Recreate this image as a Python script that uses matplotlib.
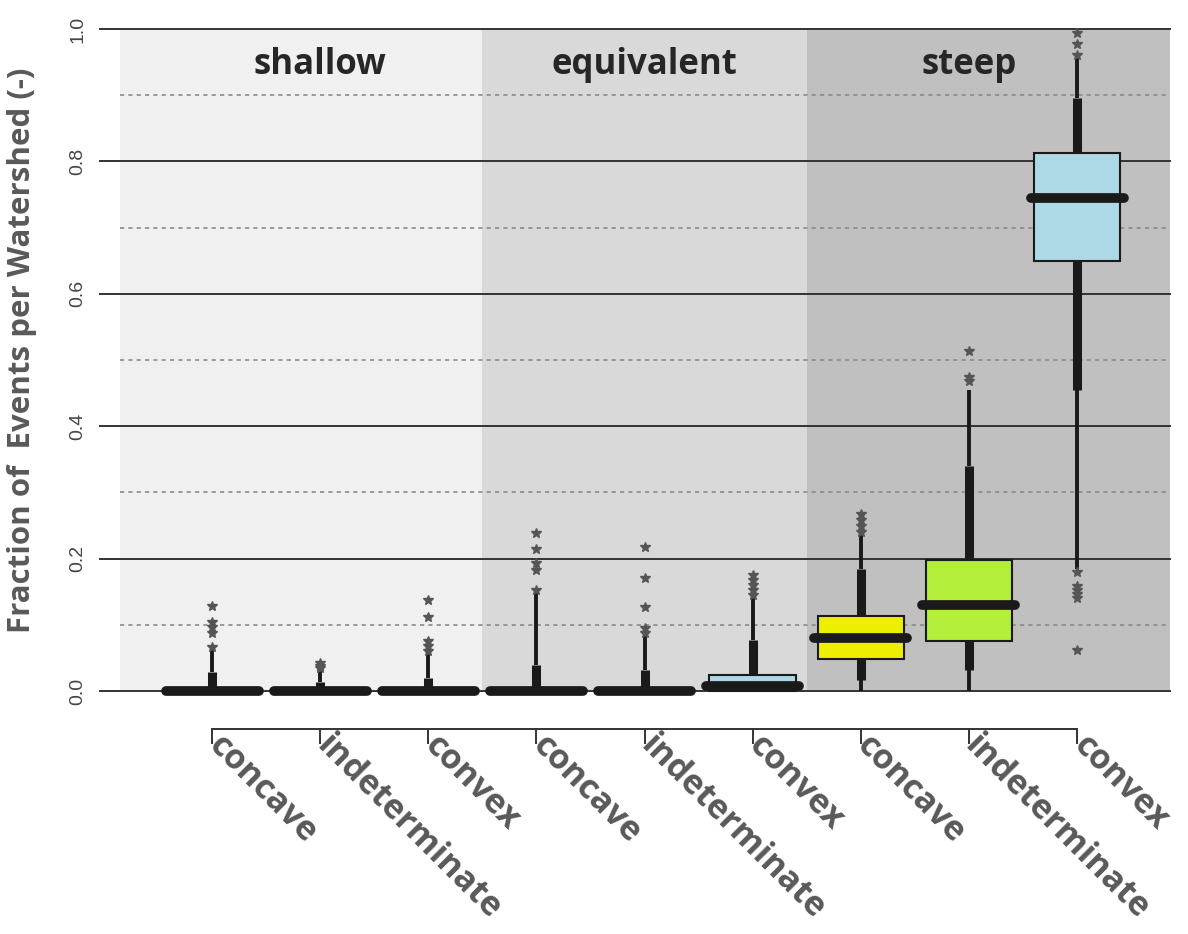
import matplotlib
matplotlib.use('Agg')
import matplotlib.pyplot as plt

# shape classes per slope group
shapes = ['concave', 'indeterminate', 'convex'] * 3
groups = ['shallow', 'equivalent', 'steep']
box_colors = ['#eeee00', '#b3ee3a', '#add8e6'] * 3

# box statistics
q1 = [0, 0, 0, 0, 0, 0, 0.049, 0.076, 0.649]
med = [0, 0, 0, 0, 0, 0.008, 0.080, 0.130, 0.745]
q3 = [0, 0, 0, 0, 0, 0.024, 0.114, 0.198, 0.813]
thick_hi = [0.028, 0.014, 0.020, 0.039, 0.032, 0.077, 0.184, 0.340, 0.896]
whis_hi = [0.067, 0.032, 0.057, 0.153, 0.088, 0.142, 0.236, 0.454, 0.956]
thick_lo = [0, 0, 0, 0, 0, 0, 0.017, 0.031, 0.454]
whis_lo = [0, 0, 0, 0, 0, 0, 0, 0, 0.184]
fliers = [
    [0.067, 0.087, 0.097, 0.104, 0.128],
    [0.035, 0.038, 0.042],
    [0.060, 0.068, 0.075, 0.112, 0.137],
    [0.153, 0.183, 0.193, 0.214, 0.239],
    [0.088, 0.095, 0.127, 0.171, 0.218],
    [0.145, 0.152, 0.160, 0.168, 0.175],
    [0.240, 0.250, 0.258, 0.267],
    [0.468, 0.475, 0.513],
    [0.960, 0.977, 0.994, 0.062, 0.140, 0.147, 0.153, 0.159, 0.180],
]

fig = plt.figure(figsize=(11.88, 9.34), dpi=100)
ax = fig.add_axes([100 / 1188, 1 - 691 / 934, 1070 / 1188, 662 / 934])
ax.set_xlim(-0.036, 9.86)
ax.set_ylim(0, 1)

# group background shading
ax.axvspan(0.15, 3.5, color='#f0f0f0', zorder=0, lw=0)
ax.axvspan(3.5, 6.5, color='#d9d9d9', zorder=0, lw=0)
ax.axvspan(6.5, 9.86, color='#c0c0c0', zorder=0, lw=0)

# grid
for y in [0, 0.2, 0.4, 0.6, 0.8, 1.0]:
    ax.axhline(y, color='#333333', lw=1.4, zorder=1, clip_on=False)
ax.hlines([0.1, 0.3, 0.5, 0.7, 0.9], 0.15, 9.86, colors='#8a8a8a',
          linestyles=(0, (2.5, 2.5)), lw=1.2, zorder=1)

pos = list(range(1, 10))
stats = []
for i in range(9):
    stats.append({'med': med[i], 'q1': q1[i], 'q3': q3[i],
                  'whislo': thick_lo[i], 'whishi': thick_hi[i], 'fliers': []})

# thin outer whiskers
ax.vlines(pos, whis_lo, thick_lo, colors='#1a1a1a', lw=2.8, zorder=2, clip_on=False)
ax.vlines(pos, thick_hi, whis_hi, colors='#1a1a1a', lw=2.8, zorder=2, clip_on=False)

bp = ax.bxp(stats, positions=pos, widths=0.8, patch_artist=True,
            showcaps=False, manage_ticks=False,
            whiskerprops=dict(color='#1a1a1a', lw=6.5, solid_capstyle='butt'),
            medianprops=dict(color='#1a1a1a', lw=7, solid_capstyle='round'),
            boxprops=dict(edgecolor='#1a1a1a', lw=1.5))
for patch, c in zip(bp['boxes'], box_colors):
    patch.set_facecolor(c)
    patch.set_zorder(3)
for m in bp['medians']:
    m.set_zorder(4)
    m.set_clip_on(False)
for art in bp['whiskers'] + bp['boxes']:
    art.set_clip_on(False)

# widen the median bars slightly past the box edges
for m, p in zip(bp['medians'], pos):
    m.set_xdata([p - 0.43, p + 0.43])

# star outliers
for p, fl in zip(pos, fliers):
    ax.plot([p] * len(fl), fl, ls='none', marker='*', ms=7, color='#555555',
            zorder=5, clip_on=False)

# group titles
for x, g in zip([2, 5, 8], groups):
    ax.text(x, 0.946, g, ha='center', va='center', fontsize=25,
            fontweight='bold', color='#262626', family='Open Sans')

# axes styling
for s in ['top', 'right', 'left']:
    ax.spines[s].set_visible(False)
ax.spines['bottom'].set_position(('outward', 27))
ax.spines['bottom'].set_bounds(1, 9)
ax.spines['bottom'].set_color('#333333')
ax.spines['bottom'].set_linewidth(1.4)

ax.set_xticks(pos)
ax.set_xticklabels([])
ax.tick_params(axis='x', length=11, width=1.4, color='#333333')
for p, s in zip(pos, shapes):
    ax.annotate(s, xy=(p, 0), xycoords=('data', 'axes fraction'),
                xytext=(1, -36), textcoords='offset points',
                rotation=-45, rotation_mode='anchor', ha='left', va='center',
                fontsize=24.5, fontweight='bold', color='#595959',
                family='Open Sans', annotation_clip=False)

ax.set_yticks([0, 0.2, 0.4, 0.6, 0.8, 1.0])
ax.set_yticklabels(['0.0', '0.2', '0.4', '0.6', '0.8', '1.0'],
                   rotation=90, va='center', fontsize=14, color='#444444',
                   family='Liberation Sans')
ax.tick_params(axis='y', length=0, pad=10)

fig.text(22 / 1188, 1 - 350 / 934, 'Fraction of  Events per Watershed (-)',
         rotation=90, ha='center', va='center', fontsize=22.5,
         fontweight='bold', color='#595959', family='Open Sans')

fig.savefig('out.png', dpi=100)
